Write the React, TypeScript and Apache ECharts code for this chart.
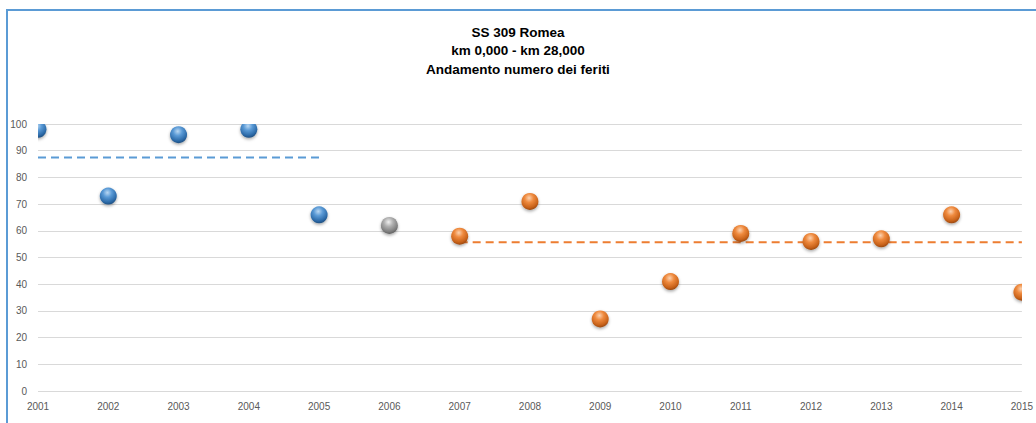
import React, { useEffect, useRef } from "react";
import * as echarts from "echarts";

const years = ["2001", "2002", "2003", "2004", "2005", "2006", "2007", "2008", "2009", "2010", "2011", "2012", "2013", "2014", "2015"];
const injured = [98, 73, 96, 98, 66, 62, 58, 71, 27, 41, 59, 56, 57, 66, 37];
// period of each year: "before", "transition", "after"
const periods = ["before", "before", "before", "before", "before", "transition", "after", "after", "after", "after", "after", "after", "after", "after", "after"];
const meanBefore = 87.5;
const meanAfter = 55.7;
const yTicks = [0, 10, 20, 30, 40, 50, 60, 70, 80, 90, 100];
const titleLines = ["SS 309 Romea", "km 0,000 - km 28,000", "Andamento numero dei feriti"];

const sphereColors: Record<string, string[]> = {
  before: ["#b9d7f2", "#5a9ad6", "#2c6aa8", "#1b4572"],
  transition: ["#f0f0f0", "#b0b0b0", "#7f7f7f", "#555555"],
  after: ["#fbd2b0", "#ef8a3e", "#c8621a", "#8a3f0b"],
};

function sphereSeries(period: string) {
  const data = years
    .map((_, i) => [i, injured[i]])
    .filter((_, i) => periods[i] === period);
  const c = sphereColors[period];
  return {
    type: "custom",
    name: period,
    data,
    clip: true,
    z: 5,
    encode: { x: 0, y: 1 },
    renderItem: (_params: any, api: any) => {
      const p = api.coord([api.value(0), api.value(1)]);
      return {
        type: "circle",
        shape: { cx: p[0], cy: p[1], r: 8.5 },
        style: {
          fill: {
            type: "radial",
            x: 0.45,
            y: 0.3,
            r: 0.75,
            colorStops: [
              { offset: 0, color: c[0] },
              { offset: 0.35, color: c[1] },
              { offset: 0.75, color: c[2] },
              { offset: 1, color: c[3] },
            ],
          },
          shadowBlur: 3,
          shadowOffsetY: 1.5,
          shadowColor: "rgba(0,0,0,0.35)",
        },
      };
    },
  };
}

export default function App() {
  const ref = useRef<HTMLDivElement>(null);
  useEffect(() => {
    if (!ref.current) return;
    const chart = echarts.init(ref.current, null, { renderer: "svg" });
    const beforeLine = years.map((_, i) => (periods[i] === "before" ? meanBefore : "-"));
    const afterLine = years.map((_, i) => (periods[i] === "after" ? meanAfter : "-"));
    chart.setOption({
      animation: false,
      backgroundColor: "#ffffff",
      textStyle: { fontFamily: "Liberation Sans" },
      title: {
        text: titleLines.join("\n"),
        left: "center",
        top: 23,
        padding: [0, 0, 0, 10],
        textStyle: {
          fontFamily: "Liberation Sans",
          fontSize: 13.5,
          fontWeight: "bold",
          color: "#000000",
          lineHeight: 18.5,
        },
      },
      graphic: [
        {
          type: "rect",
          shape: { x: 7, y: 10, width: 1200, height: 600 },
          style: { fill: "none", stroke: "#5b9bd5", lineWidth: 2 },
          silent: true,
          z: 100,
        },
      ],
      grid: { left: 38, right: 14, top: 124, bottom: 32, containLabel: false },
      xAxis: {
        type: "category",
        data: years,
        boundaryGap: false,
        axisLine: { show: false },
        axisTick: { show: false },
        axisLabel: { color: "#595959", fontSize: 10, margin: 10, fontFamily: "Liberation Sans" },
        splitLine: { show: false },
      },
      yAxis: {
        type: "value",
        min: yTicks[0],
        max: yTicks[yTicks.length - 1],
        interval: 10,
        axisLine: { show: false },
        axisTick: { show: false },
        axisLabel: { color: "#595959", fontSize: 10, margin: 11, fontFamily: "Liberation Sans" },
        splitLine: { show: true, lineStyle: { color: "#d9d9d9", width: 1 } },
      },
      series: [
        {
          type: "line",
          data: beforeLine,
          showSymbol: false,
          symbol: "none",
          lineStyle: { color: "#5b9bd5", width: 2, type: [8, 5] },
          z: 3,
        },
        {
          type: "line",
          data: afterLine,
          showSymbol: false,
          symbol: "none",
          lineStyle: { color: "#ed7d31", width: 2, type: [8, 5] },
          z: 3,
        },
        sphereSeries("before"),
        sphereSeries("transition"),
        sphereSeries("after"),
      ],
    });
    return () => chart.dispose();
  }, []);
  return (
    <div
      ref={ref}
      style={{ position: "absolute", left: 0, top: 0, width: 1036, height: 423 }}
    />
  );
}
